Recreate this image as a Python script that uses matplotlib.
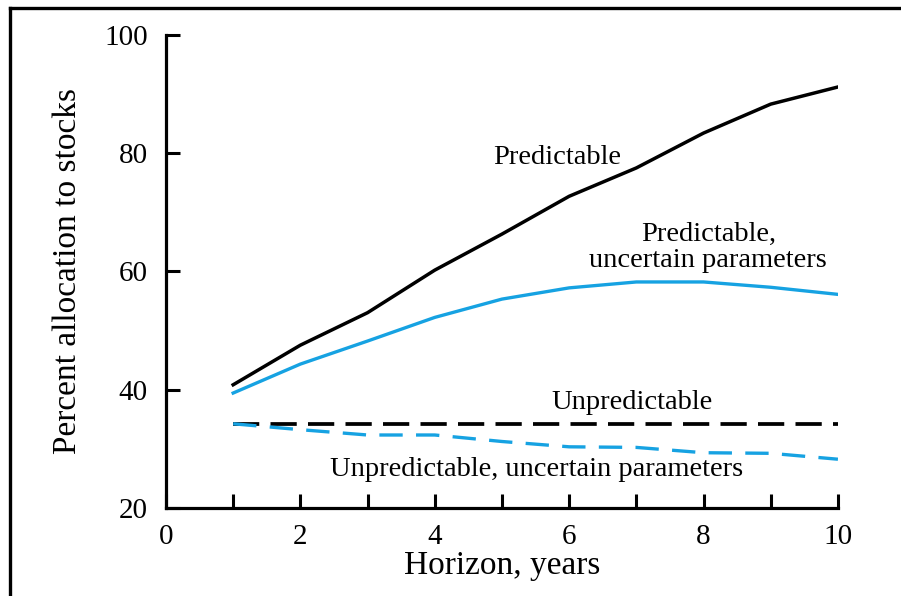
import matplotlib.pyplot as plt
from matplotlib.lines import Line2D

plt.rcParams['font.family'] = ['Liberation Serif', 'DejaVu Serif']

horizon = [1, 2, 3, 4, 5, 6, 7, 8, 9, 10]
predictable = [40.8, 47.5, 53.0, 60.2, 66.3, 72.7, 77.5, 83.4, 88.3, 91.2]
predictable_unc = [39.4, 44.3, 48.2, 52.2, 55.3, 57.2, 58.2, 58.2, 57.3, 56.1]
unpredictable = [34.2, 34.2, 34.2, 34.2, 34.2, 34.2, 34.2, 34.2, 34.2, 34.2]
unpredictable_unc = [34.2, 33.2, 32.3, 32.3, 31.2, 30.3, 30.2, 29.3, 29.2, 28.2]

blue = '#16a2e2'

fig = plt.figure(figsize=(9.01, 5.96), dpi=100)
ax = fig.add_axes([0.1842, 0.1482, 0.7458, 0.7931])

ax.plot(horizon, predictable, color='black', lw=2.5)
ax.plot(horizon, predictable_unc, color=blue, lw=2.4)
ax.plot(horizon, unpredictable, color='black', lw=2.7, dashes=(7, 3))
ax.plot(horizon, unpredictable_unc, color=blue, lw=2.4, dashes=(7, 4))

fs = 20.5
ax.text(5.82, 79.2, 'Predictable', ha='center', va='center', fontsize=fs)
ax.text(8.07, 64.1, 'Predictable,\nuncertain parameters', ha='center', va='center',
        fontsize=fs, linespacing=1.05)
ax.text(6.93, 37.85, 'Unpredictable', ha='center', va='center', fontsize=fs)
ax.text(5.52, 26.4, 'Unpredictable, uncertain parameters', ha='center', va='center', fontsize=fs)

ax.set_xlim(0, 10)
ax.set_ylim(20, 100)
ax.set_xticks([0, 2, 4, 6, 8, 10])
ax.set_xticks([1, 3, 5, 7, 9], minor=True)
ax.set_yticks([20, 40, 60, 80, 100])
ax.tick_params(axis='both', which='both', direction='in', length=10, width=2.2,
               labelsize=21)
ax.tick_params(axis='x', which='both', pad=12)
ax.tick_params(axis='y', pad=13)

for s in ['top', 'right']:
    ax.spines[s].set_visible(False)
for s in ['left', 'bottom']:
    ax.spines[s].set_linewidth(2.3)

ax.set_xlabel('Horizon, years', fontsize=24, labelpad=0)
ax.set_ylabel('Percent allocation to stocks', fontsize=24, labelpad=15)

# outer frame
fig.add_artist(Line2D([10 / 901, 10 / 901], [0, 1 - 7.5 / 596], color='black', lw=2.4,
                      transform=fig.transFigure))
fig.add_artist(Line2D([10 / 901, 1], [1 - 7.5 / 596, 1 - 7.5 / 596], color='black', lw=2.4,
                      transform=fig.transFigure))

fig.savefig('out.png', dpi=100)
